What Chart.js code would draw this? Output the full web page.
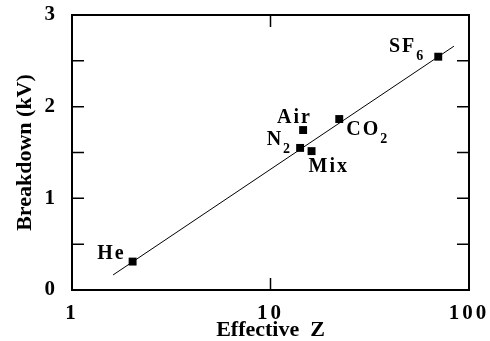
<!DOCTYPE html>
<html>
<head>
<meta charset="utf-8">
<script src="https://cdn.jsdelivr.net/npm/chart.js@4"></script>
<style>
  body { margin: 0; background: #fff; }
  #wrap { width: 490px; height: 341px; }
</style>
</head>
<body>
<div id="wrap"><canvas id="myChart" width="490" height="341"></canvas></div>
<script>
// gases, effective Z vs breakdown voltage
const gasNames   = ['He', 'N', 'Air', 'Mix', 'CO', 'SF'];
const gasSubs    = ['', '2', '', '', '2', '6'];
const effectiveZ = [2.02, 14.1, 14.6, 16.1, 22.2, 70];
const breakdown  = [0.31, 1.55, 1.745, 1.515, 1.865, 2.545];

// straight fit line (ends as drawn)
const fitZ  = [1.61, 84];
const fitKV = [0.164, 2.66];

const xTicks = [1, 10, 100];
const yTicks = [0, 0.5, 1, 1.5, 2, 2.5, 3];

const serif = "'Liberation Serif', 'Times New Roman', serif";

// label offsets from the marker, px
const labelPos = {
    'He':  { dx: -7,  dy: -3,  align: 'right' },
    'N':   { dx: -17, dy: -3,  align: 'right' },
    'Air': { dx: -26, dy: -7,  align: 'left' },
    'Mix': { dx: -3,  dy: 21,  align: 'left' },
    'CO':  { dx: 7,   dy: 16,  align: 'left' },
    'SF':  { dx: -22, dy: -5,  align: 'right' }
};

const frame = {
    id: 'frame',
    beforeDraw(chart) {
        chart.ctx.letterSpacing = '0px';
    },
    afterDatasetsDraw(chart) {
        // tick labels are drawn after this (z: 1), spaced out like the original
        chart.ctx.letterSpacing = '3px';
    },
    afterDraw(chart) {
        const ctx = chart.ctx;
        const a = chart.chartArea;
        const xs = chart.scales.x, ys = chart.scales.y;
        ctx.save();
        ctx.letterSpacing = '0px';
        ctx.strokeStyle = '#000';
        ctx.lineWidth = 2;
        ctx.strokeRect(a.left, a.top, a.right - a.left, a.bottom - a.top);

        // inward tick marks
        ctx.lineWidth = 1.5;
        ctx.beginPath();
        yTicks.forEach(v => {
            const y = ys.getPixelForValue(v);
            ctx.moveTo(a.left, y); ctx.lineTo(a.left + 12, y);
            ctx.moveTo(a.right, y); ctx.lineTo(a.right - 12, y);
        });
        xTicks.forEach(v => {
            const x = xs.getPixelForValue(v);
            ctx.moveTo(x, a.bottom); ctx.lineTo(x, a.bottom - 12);
            ctx.moveTo(x, a.top); ctx.lineTo(x, a.top + 12);
        });
        ctx.stroke();

        // gas labels with subscripts
        ctx.fillStyle = '#000';
        ctx.textBaseline = 'alphabetic';
        ctx.letterSpacing = '2px';
        gasNames.forEach((name, i) => {
            const p = labelPos[name];
            const px = xs.getPixelForValue(effectiveZ[i]) + p.dx;
            const py = ys.getPixelForValue(breakdown[i]) + p.dy;
            ctx.font = 'bold 20px ' + serif;
            const w = ctx.measureText(name).width;
            const left = p.align === 'right' ? px - w : px;
            ctx.textAlign = 'left';
            ctx.fillText(name, left, py);
            if (gasSubs[i]) {
                ctx.font = 'bold 14px ' + serif;
                ctx.fillText(gasSubs[i], left + w, py + 8);
            }
        });
        ctx.restore();
        ctx.letterSpacing = '0px';
    }
};

const ctx = document.getElementById('myChart').getContext('2d');
const myChart = new Chart(ctx, {
    type: 'scatter',
    data: {
        datasets: [{
            data: effectiveZ.map((z, i) => ({ x: z, y: breakdown[i] })),
            pointStyle: 'rect',
            pointRadius: 5.6,
            backgroundColor: '#000',
            borderColor: '#000',
            borderWidth: 0
        }, {
            type: 'line',
            data: fitZ.map((z, i) => ({ x: z, y: fitKV[i] })),
            borderColor: '#000',
            borderWidth: 1,
            pointRadius: 0,
            fill: false
        }]
    },
    options: {
        responsive: false,
        animation: false,
        layout: { padding: { top: 15, right: 21 } },
        plugins: {
            legend: { display: false },
            tooltip: { enabled: false }
        },
        scales: {
            x: {
                type: 'logarithmic',
                min: 1,
                max: 100,
                afterBuildTicks: s => { s.ticks = xTicks.map(v => ({ value: v })); },
                afterFit: s => { s.height = 51; s.paddingLeft = 0; s.paddingRight = 0; },
                grid: { display: false, drawTicks: false },
                border: { display: false },
                ticks: {
                    z: 1,
                    color: '#000',
                    padding: 11,
                    maxRotation: 0,
                    font: { family: serif, size: 21, weight: 'bold' },
                    callback: v => String(v)
                },
                title: {
                    display: true,
                    text: 'Effective  Z',
                    color: '#000',
                    padding: { top: 0, bottom: 0 },
                    font: { family: serif, size: 22, weight: 'bold', lineHeight: 1 }
                }
            },
            y: {
                min: 0,
                max: 3,
                afterBuildTicks: s => { s.ticks = yTicks.map(v => ({ value: v })); },
                afterFit: s => { s.width = 72; s.paddingTop = 0; s.paddingBottom = 0; },
                grid: { display: false, drawTicks: false },
                border: { display: false },
                ticks: {
                    z: 1,
                    color: '#000',
                    padding: 14,
                    autoSkip: false,
                    font: { family: serif, size: 21, weight: 'bold' },
                    callback: v => Number.isInteger(v) ? String(v) : ''
                },
                title: {
                    display: true,
                    text: 'Breakdown (kV)',
                    color: '#000',
                    padding: { top: 14, bottom: 0 },
                    font: { family: serif, size: 22, weight: 'bold', lineHeight: 1 }
                }
            }
        }
    },
    plugins: [frame]
});
</script>
</body>
</html>
